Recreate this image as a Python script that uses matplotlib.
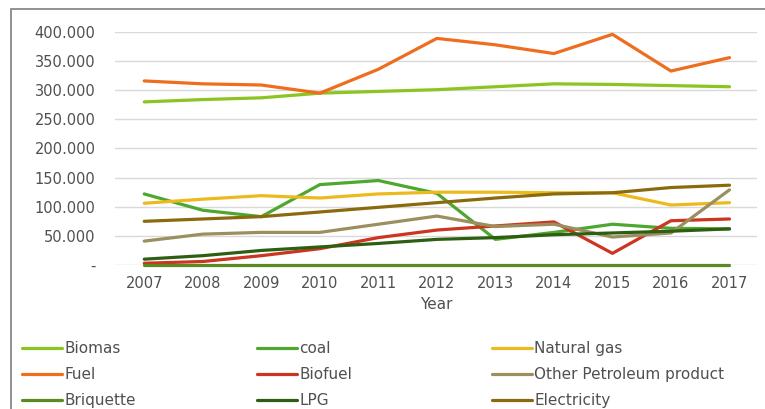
import matplotlib
matplotlib.use("Agg")
import matplotlib.pyplot as plt
from matplotlib.patches import Rectangle
from matplotlib.ticker import FuncFormatter

plt.rcParams['font.family'] = ['DejaVu Sans']

years = [2007, 2008, 2009, 2010, 2011, 2012, 2013, 2014, 2015, 2016, 2017]
biomas = [280, 284, 287, 295, 298, 301, 306, 311, 310, 308, 306]
coal = [122, 94, 83, 138, 145, 123, 44, 56, 70, 63, 62]
natural_gas = [106, 113, 119, 115, 122, 125, 125, 124, 124, 103, 107]
fuel = [316, 311, 309, 295, 336, 389, 378, 363, 396, 333, 356]
biofuel = [3, 6, 16, 28, 47, 60, 67, 74, 20, 76, 79]
other_petroleum = [41, 53, 56, 56, 70, 84, 66, 70, 48, 55, 129]
briquette = [0, 0, 0, 0, 0, 0, 0, 0, 0, 0, 0]
lpg = [10, 16, 25, 31, 37, 44, 47, 52, 55, 58, 62]
electricity = [75, 79, 83, 91, 99, 107, 115, 122, 124, 133, 137]

series = [
    ("Biomas", biomas, "#8cc421"),
    ("coal", coal, "#4ea72e"),
    ("Natural gas", natural_gas, "#ecba1e"),
    ("Fuel", fuel, "#ee6d1f"),
    ("Biofuel", biofuel, "#cc3520"),
    ("Other Petroleum product", other_petroleum, "#9b8f5f"),
    ("Briquette", briquette, "#5b8a20"),
    ("LPG", lpg, "#2d5f12"),
    ("Electricity", electricity, "#8a6a0c"),
]

fig = plt.figure(figsize=(7.65, 4.09), dpi=100)
ax = fig.add_axes([115/765, 1-265/409, 642/765, 233/409])

handles = {}
for name, vals, col in series:
    h, = ax.plot(years, vals, color=col, lw=2.3, label=name, solid_capstyle='round', clip_on=False)
    handles[name] = h

ax.set_xlim(2006.5, 2017.47)
ax.set_ylim(0, 400)
ax.set_yticks(range(0, 401, 50))
ax.yaxis.set_major_formatter(FuncFormatter(lambda v, p: "-" if v == 0 else f"{int(v)}.000"))
ax.set_xticks(years)
ax.grid(axis='y', color='#d9d9d9', lw=1)
ax.set_axisbelow(True)
for s in ax.spines.values():
    s.set_visible(False)
ax.tick_params(length=0, labelsize=10.5, colors='#505050')
ax.tick_params(axis='y', pad=14)
ax.tick_params(axis='x', pad=8)
ax.set_xlabel("Year", fontsize=11, color='#505050', labelpad=4)

# figure border
fig.patches.append(Rectangle((11/765, -0.1), 1.1, 1-9/409+0.1, transform=fig.transFigure,
                             fill=False, edgecolor='#7f7f7f', lw=1.2))

cols = [["Biomas", "Fuel", "Briquette"], ["coal", "Biofuel", "LPG"],
        ["Natural gas", "Other Petroleum product", "Electricity"]]
xs = [22/765, 257/765, 492/765]
for x, names in zip(xs, cols):
    leg = fig.legend([handles[n] for n in names], names, loc='upper left',
                     bbox_to_anchor=(x, 1-341/409), frameon=False, fontsize=11,
                     handlelength=2.6, handletextpad=0.15, labelspacing=0.72,
                     borderpad=0, borderaxespad=0)
    for t in leg.get_texts():
        t.set_color('#505050')

fig.savefig("out.png", dpi=100)
